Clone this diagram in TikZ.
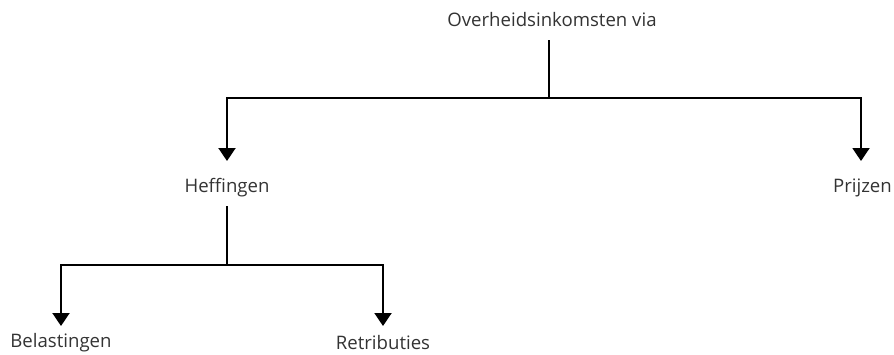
\documentclass[tikz,border=0pt]{standalone}
\usepackage{fontspec}
\setmainfont{Open Sans}
\usetikzlibrary{arrows.meta}
\begin{document}
\begin{tikzpicture}[x=1pt,y=1pt,
  lbl/.style={font=\fontsize{18.6}{22}\selectfont, text=black!80, inner sep=0pt},
  conn/.style={line width=2pt, black},
  arr/.style={conn, -{Triangle[width=17pt,length=13pt]}}]
\useasboundingbox (0,0) rectangle (894,-354);
\node[lbl] (top) at (552,-20) {Overheidsinkomsten via};
\node[lbl] (heff) at (227,-188) {Heffingen};
\node[lbl, anchor=east] (prijs) at (892,-188) {Prijzen};
\node[lbl] (bel) at (61,-343) {Belastingen};
\node[lbl] (retr) at (383,-343) {Retributies};
% junction points
\coordinate (a0) at (549,-40);
\coordinate (a1) at (549,-98);
\coordinate (ta) at (227,-161);
\coordinate (tb) at (861,-161);
\coordinate (b0) at (227,-206);
\coordinate (b1) at (227,-265);
\coordinate (tc) at (61,-326);
\coordinate (td) at (383,-326);
\draw[conn] (a0) -- (a1);
\draw[arr] (a1) -| (ta);
\draw[arr] (a1) -| (tb);
\draw[conn] (b0) -- (b1);
\draw[arr] (b1) -| (tc);
\draw[arr] (b1) -| (td);
\end{tikzpicture}
\end{document}
